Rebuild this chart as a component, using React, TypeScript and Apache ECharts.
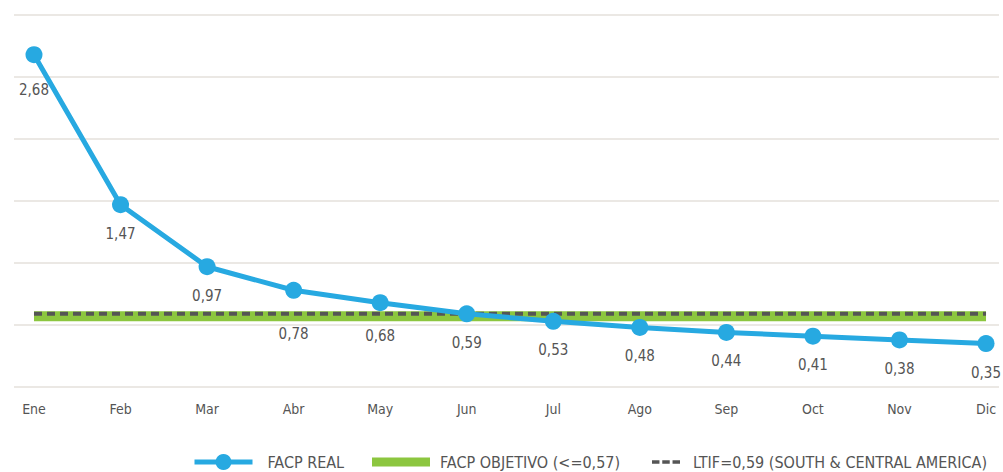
import React, { useEffect, useRef } from "react";
import * as echarts from "echarts";

const months = ["Ene", "Feb", "Mar", "Abr", "May", "Jun", "Jul", "Ago", "Sep", "Oct", "Nov", "Dic"];
const facpReal = [2.68, 1.47, 0.97, 0.78, 0.68, 0.59, 0.53, 0.48, 0.44, 0.41, 0.38, 0.35];
const facpObjetivo = 0.57;
const ltif = 0.59;
const yTicks = [0, 0.5, 1, 1.5, 2, 2.5, 3];

const NAME_REAL = "FACP REAL";
const NAME_OBJ = "FACP OBJETIVO (<=0,57)";
const NAME_LTIF = "LTIF=0,59 (SOUTH & CENTRAL AMERICA)";

const FONT = "'DejaVu Sans Condensed', 'Liberation Sans Narrow', sans-serif";
const BLUE = "#27a9e1";
const GREEN = "#8cc63f";
const DASH = "#555555";
const TEXT = "#555555";

// label distances for points whose labels sit further below the marker
const labelDistance: Record<number, number> = { 0: 19, 3: 28, 4: 17 };

export default function App() {
  const ref = useRef<HTMLDivElement>(null);
  useEffect(() => {
    document.body.style.margin = "0";
    if (!ref.current) return;
    const chart = echarts.init(ref.current, undefined, { renderer: "svg" });
    const idx = months.map((_, i) => i);
    const legendText = { color: TEXT, fontFamily: FONT, fontSize: 16 };
    chart.setOption({
      animation: false,
      backgroundColor: "#ffffff",
      grid: { left: 14, right: 4, top: 15, bottom: 85 },
      xAxis: {
        type: "value",
        min: -0.231,
        max: 11.15,
        axisLine: { show: false },
        axisTick: { show: false },
        splitLine: { show: false },
        axisLabel: {
          customValues: idx,
          formatter: (v: number) => months[Math.round(v)] ?? "",
          color: TEXT,
          fontFamily: FONT,
          fontSize: 14,
          margin: 15,
          showMinLabel: true,
          showMaxLabel: true,
        },
      },
      yAxis: {
        type: "value",
        min: yTicks[0],
        max: yTicks[yTicks.length - 1],
        interval: 0.5,
        axisLabel: { show: false },
        axisLine: { show: false },
        axisTick: { show: false },
        splitLine: { show: true, lineStyle: { color: "#ebe8e4", width: 2 } },
      },
      legend: [
        {
          data: [NAME_REAL],
          left: 192,
          top: 454,
          padding: 0,
          itemWidth: 58,
          itemHeight: 20,
          lineStyle: { width: 5 },
          textStyle: { ...legendText, padding: [0, 0, 0, 10] },
        },
        {
          data: [{ name: NAME_OBJ, icon: "rect" }],
          left: 372,
          top: 454,
          padding: 0,
          itemWidth: 58,
          itemHeight: 9,
          textStyle: { ...legendText, padding: [0, 0, 0, 5] },
        },
        {
          data: [{ name: NAME_LTIF, icon: "path://M0,0h8v4h-8z M11,0h8v4h-8z M22,0h8v4h-8z" }],
          left: 652,
          top: 454,
          padding: 0,
          itemWidth: 28,
          itemHeight: 4,
          textStyle: { ...legendText, padding: [0, 0, 0, 8] },
        },
      ],
      series: [
        {
          name: NAME_OBJ,
          type: "line",
          data: idx.map((i) => [i, facpObjetivo]),
          symbol: "none",
          color: GREEN,
          lineStyle: { color: GREEN, width: 10 },
          z: 1,
        },
        {
          name: NAME_LTIF,
          type: "line",
          data: idx.map((i) => [i, ltif]),
          symbol: "none",
          color: DASH,
          lineStyle: { color: DASH, width: 4, type: [8, 5] },
          z: 2,
        },
        {
          name: NAME_REAL,
          type: "line",
          data: facpReal.map((v, i) =>
            labelDistance[i] !== undefined
              ? { value: [i, v], label: { distance: labelDistance[i] } }
              : [i, v]
          ),
          symbol: "circle",
          symbolSize: 17,
          color: BLUE,
          itemStyle: { color: BLUE },
          lineStyle: { color: BLUE, width: 5 },
          label: {
            show: true,
            position: "bottom",
            distance: 13,
            color: TEXT,
            fontFamily: FONT,
            fontSize: 15,
            formatter: (p: any) => (p.value[1] as number).toFixed(2).replace(".", ","),
          },
          z: 3,
        },
      ],
    });
    return () => chart.dispose();
  }, []);
  return <div ref={ref} style={{ width: 1003, height: 472 }} />;
}
